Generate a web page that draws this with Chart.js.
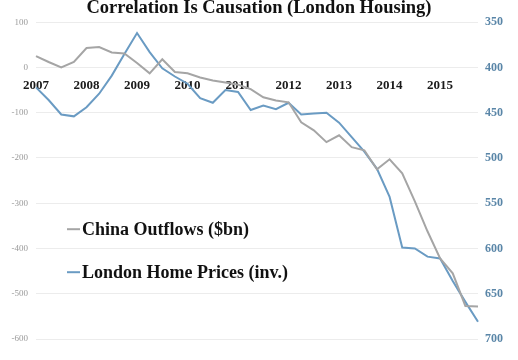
<!DOCTYPE html>
<html>
<head>
<meta charset="utf-8">
<script src="https://cdn.jsdelivr.net/npm/chart.js@4"></script>
<style>
  html, body { margin: 0; padding: 0; background: #fff; }
  #wrap { width: 518px; height: 360px; }
</style>
</head>
<body>
<div id="wrap"><canvas id="chart" width="518" height="360"></canvas></div>
<script>
// quarterly data, 2007 Q1 .. 2015 Q4
const years = ['2007', '2008', '2009', '2010', '2011', '2012', '2013', '2014', '2015'];
const chinaOutflows = [
    25, 12, 0, 12,
    43, 45, 33, 31,
    10, -13, 18, -10,
    -13, -22, -29, -33,
    -38, -48, -66, -73,
    -77, -121, -139, -165,
    -150, -176, -183, -225,
    -203, -234, -296, -362,
    -422, -455, -527, -528
];
const londonPrices = [
    422, 436, 452, 454,
    444, 429, 409, 385,
    362, 383, 401, 410,
    418, 434, 439, 425,
    427, 447, 442, 446,
    439, 452, 451, 450,
    461, 477, 493, 512,
    543, 599, 600, 609,
    611, 636, 659, 681
];
const leftTicks = [100, 0, -100, -200, -300, -400, -500, -600];
const rightTicks = [350, 400, 450, 500, 550, 600, 650, 700];

const grayLine = '#a5a5a5';
const blueLine = '#6a9bc3';

// only the first quarter of every year gets a label
const labels = years.flatMap(y => [y, '', '', '']);

// legend drawn inside the plot, like the original
const insideLegend = {
    id: 'insideLegend',
    afterDraw(chart) {
        const ctx = chart.ctx;
        const a = chart.chartArea;
        const items = [
            { text: 'China Outflows ($bn)', color: grayLine, y: a.top + 207 },
            { text: 'London Home Prices (inv.)', color: blueLine, y: a.top + 250 }
        ];
        ctx.save();
        ctx.font = 'bold 18px "Liberation Serif"';
        ctx.textBaseline = 'middle';
        items.forEach(it => {
            ctx.strokeStyle = it.color;
            ctx.lineWidth = 2;
            ctx.beginPath();
            ctx.moveTo(a.left + 31, it.y);
            ctx.lineTo(a.left + 44, it.y);
            ctx.stroke();
            ctx.fillStyle = '#111';
            ctx.fillText(it.text, a.left + 46, it.y + 1);
        });
        ctx.restore();
    }
};

new Chart(document.getElementById('chart'), {
    type: 'line',
    data: {
        labels: labels,
        datasets: [{
            label: 'China Outflows ($bn)',
            data: chinaOutflows,
            borderColor: grayLine,
            borderWidth: 2,
            pointRadius: 0,
            yAxisID: 'y'
        }, {
            label: 'London Home Prices (inv.)',
            data: londonPrices,
            borderColor: blueLine,
            borderWidth: 2,
            pointRadius: 0,
            yAxisID: 'y1'
        }]
    },
    options: {
        responsive: false,
        animation: false,
        layout: { padding: { top: 0, bottom: 21, left: 0, right: 0 } },
        plugins: {
            legend: { display: false },
            tooltip: { enabled: false },
            title: {
                display: true,
                text: 'Correlation Is Causation (London Housing)',
                color: '#111',
                font: { family: 'Liberation Serif', size: 18.5, weight: 'bold' },
                padding: { top: -3, bottom: 3 }
            }
        },
        scales: {
            x: {
                position: { y: 0 },
                offset: false,
                grid: { display: false, drawTicks: false },
                border: { display: false },
                ticks: {
                    autoSkip: false,
                    maxRotation: 0,
                    padding: 10,
                    color: '#1a1a1a',
                    font: { family: 'Liberation Serif', size: 13, weight: 'bold' }
                }
            },
            y: {
                position: 'left',
                min: -600,
                max: 100,
                afterBuildTicks: s => { s.ticks = leftTicks.map(v => ({ value: v })); },
                afterFit: s => { s.width = 36; },
                grid: { color: '#ececec', drawTicks: false },
                border: { display: false },
                ticks: {
                    padding: 8,
                    color: '#9a9a9a',
                    font: { family: 'Liberation Serif', size: 9 }
                }
            },
            y1: {
                position: 'right',
                reverse: true,
                min: 350,
                max: 700,
                afterBuildTicks: s => { s.ticks = rightTicks.map(v => ({ value: v })); },
                afterFit: s => { s.width = 40; },
                grid: { display: false, drawTicks: false },
                border: { display: false },
                ticks: {
                    padding: 7,
                    color: '#5a86a8',
                    font: { family: 'Liberation Serif', size: 12, weight: 'bold' }
                }
            }
        }
    },
    plugins: [insideLegend]
});
</script>
</body>
</html>
